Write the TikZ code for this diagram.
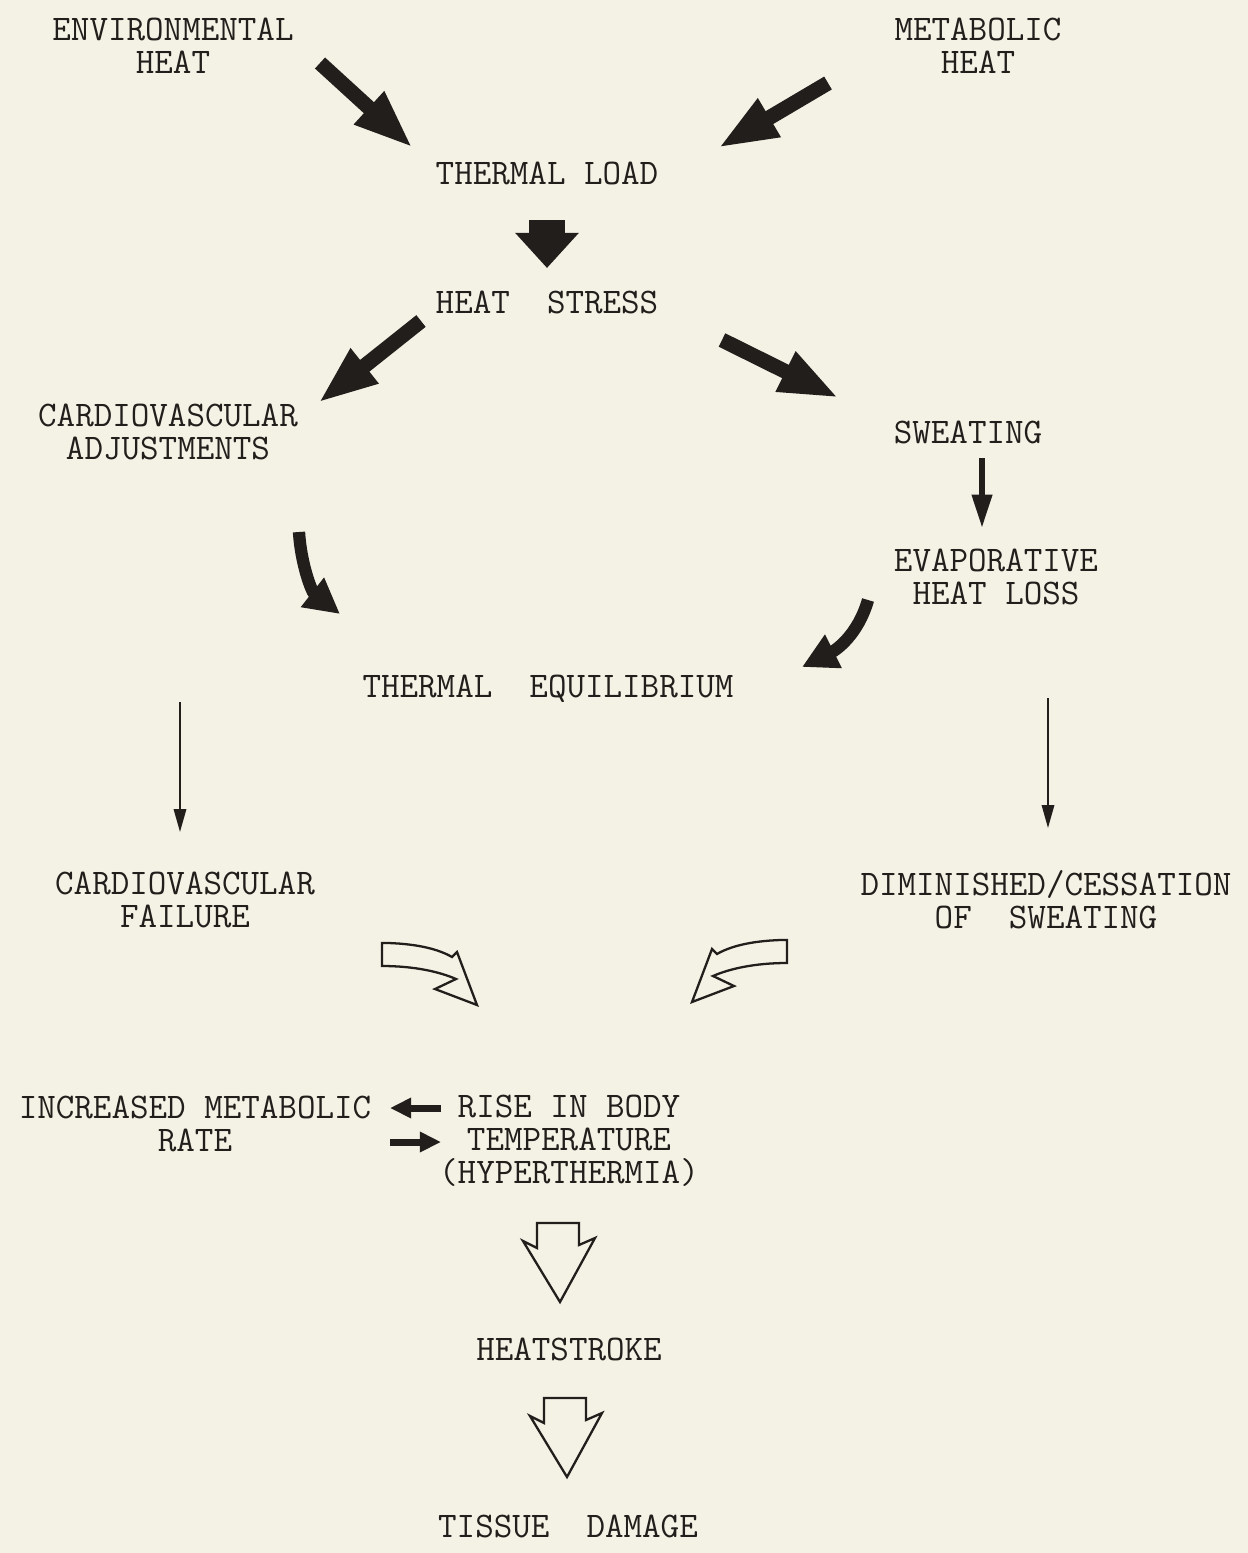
\documentclass[tikz,border=0pt]{standalone}
\usepackage{tikz}
\usetikzlibrary{arrows.meta}
\definecolor{paper}{RGB}{244,241,229}
\definecolor{ink}{RGB}{33,30,28}
\tikzset{
  lbl/.style={font=\ttfamily\fontsize{20.5}{18.7}\selectfont, text=ink,
              align=center, inner sep=0pt},
  fatarr/.style  ={line width=8.5pt, ink, -{Triangle[length=34pt,width=23pt]}},
  fatdown/.style ={line width=20pt, ink, -{Triangle[length=20pt,width=35pt]}},
  curlyarr/.style={line width=7pt, ink, -{Triangle[length=20pt,width=20pt]}},
  midarr/.style  ={line width=3.4pt, ink, -{Triangle[length=19pt,width=11pt]}},
  thinarr/.style ={line width=1.2pt, ink, -{Triangle[length=13pt,width=7pt]}},
  shortarr/.style={line width=4pt, ink, -{Triangle[length=12pt,width=11pt]}},
  hollow/.style  ={draw=ink, line width=1.3pt, fill=paper, line join=miter},
}

\begin{document}
\begin{tikzpicture}[x=0.02cm, y=-0.02cm]
  \fill[paper] (0,0) rectangle (1248,1553);

  % labels
  \node[lbl] (env)    at (173,46)   {ENVIRONMENTAL\\HEAT};
  \node[lbl] (met)    at (978,46)   {METABOLIC\\HEAT};
  \node[lbl] (load)   at (547,173)  {THERMAL LOAD};
  \node[lbl] (stress) at (547,302)  {HEAT~~STRESS};
  \node[lbl] (cardio) at (168,432)  {CARDIOVASCULAR\\ADJUSTMENTS};
  \node[lbl] (sweat)  at (968,432)  {SWEATING};
  \node[lbl] (evap)   at (996,577)  {EVAPORATIVE\\HEAT LOSS};
  \node[lbl] (equil)  at (548,689)  {THERMAL~~EQUILIBRIUM};
  \node[lbl] (cfail)  at (185,900)  {CARDIOVASCULAR\\FAILURE};
  \node[lbl] (dimin)  at (1046,900) {DIMINISHED/CESSATION\\OF~~SWEATING};
  \node[lbl] (metab)  at (195,1124) {INCREASED METABOLIC\\RATE};
  \node[lbl] (rise)   at (569,1141) {RISE IN BODY\\TEMPERATURE\\(HYPERTHERMIA)};
  \node[lbl] (stroke) at (569,1349) {HEATSTROKE};
  \node[lbl] (damage) at (568,1526) {TISSUE~~DAMAGE};

  % arrow ends
  \coordinate (envT)  at (320,63);   \coordinate (envH)  at (413,148);
  \coordinate (metT)  at (828,83);   \coordinate (metH)  at (718,148);
  \coordinate (loadT) at (547,220);  \coordinate (loadH) at (547,268);
  \coordinate (strLT) at (421,321);  \coordinate (strLH) at (318,403);
  \coordinate (strRT) at (722,340);  \coordinate (strRH) at (839,398);
  \coordinate (swT)   at (982,458);  \coordinate (swH)   at (982,528);
  \coordinate (cvT)   at (299,532);  \coordinate (cvH)   at (340,614);
  \coordinate (evT)   at (868,600);  \coordinate (evH)   at (802,667);
  \coordinate (eqLT)  at (180,702);  \coordinate (eqLH)  at (180,832);
  \coordinate (eqRT)  at (1048,698); \coordinate (eqRH)  at (1048,828);
  \coordinate (riseA) at (441,1108); \coordinate (metA)  at (390,1108);
  \coordinate (metB)  at (390,1142); \coordinate (riseB) at (441,1142);

  \draw[fatarr]  (envT) -- (envH);
  \draw[fatarr]  (metT) -- (metH);
  \draw[fatdown] (loadT) -- (loadH);
  \draw[fatarr]  (strLT) -- (strLH);
  \draw[fatarr]  (strRT) -- (strRH);
  \draw[midarr]  (swT) -- (swH);
  \draw[curlyarr] (cvT) .. controls (301,565) and (312,592) .. (cvH);
  \draw[curlyarr] (evT) .. controls (858,635) and (836,650) .. (evH);
  \draw[thinarr] (eqLT) -- (eqLH);
  \draw[thinarr] (eqRT) -- (eqRH);
  \draw[shortarr] (riseA) -- (metA);
  \draw[shortarr] (metB) -- (riseB);

  % open curved arrows
  \draw[hollow] (382,943) -- (388,943) .. controls (420,944) and (440,950) .. (452,957)
    -- (457,952) -- (477,1005) -- (435,989) -- (456,979)
    .. controls (440,972) and (415,966) .. (382,966) -- cycle;
  \begin{scope}[shift={(1169,-3)}, xscale=-1]
    \draw[hollow] (382,943) -- (388,943) .. controls (420,944) and (440,950) .. (452,957)
      -- (457,952) -- (477,1005) -- (435,989) -- (456,979)
      .. controls (440,972) and (415,966) .. (382,966) -- cycle;
  \end{scope}

  % open down arrows
  \foreach \cx/\ty in {558/1223, 565/1398}
    \draw[hollow] ({\cx-21},\ty) -- ({\cx-21},{\ty+25}) -- ({\cx-35},{\ty+18})
      -- ({\cx+2},{\ty+79}) -- ({\cx+37},{\ty+15}) -- ({\cx+21},{\ty+22})
      -- ({\cx+21},\ty) -- cycle;
\end{tikzpicture}
\end{document}
